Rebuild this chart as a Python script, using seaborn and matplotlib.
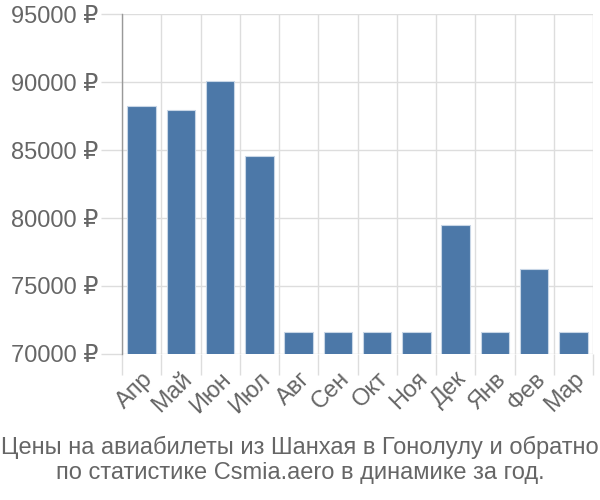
import matplotlib
matplotlib.use("Agg")
import matplotlib.pyplot as plt
import seaborn as sns
import pandas as pd
import numpy as np
from matplotlib.ticker import FixedLocator

months = ["Апр", "Май", "Июн", "Июл", "Авг", "Сен", "Окт", "Ноя", "Дек", "Янв", "Фев", "Мар"]
prices = [88260, 87940, 90040, 84560, 71640, 71640, 71640, 71640, 79490, 71640, 76250, 71640]
yticks = [70000, 75000, 80000, 85000, 90000, 95000]
title = "Цены на авиабилеты из Шанхая в Гонолулу и обратно\nпо статистике Csmia.aero в динамике за год."

sns.set_theme(style="white")
plt.rcParams['font.family'] = ['Liberation Sans', 'DejaVu Sans']

df = pd.DataFrame({"month": months, "price": prices})

fig = plt.figure(figsize=(6, 5), dpi=100)
ax = fig.add_axes([122/600, 1-354/500, (593-122)/600, (354-14)/500])

sns.barplot(data=df, x="month", y="price", color="#4c78a8", saturation=1,
            width=0.72, edgecolor="#c8d6e6", linewidth=0.8, ax=ax, zorder=3)

ax.set_ylim(70000, 95000)
ax.set_xlim(-0.5, len(months) - 0.5)
ax.set_yticks(yticks)
ax.set_yticklabels([f"{v} ₽" for v in yticks])
ax.set_xlabel("")
ax.set_ylabel("")

ax.xaxis.set_minor_locator(FixedLocator(np.arange(-0.5, len(months), 1.0)))
ax.grid(True, axis="y", which="major", color="#dddddd", linewidth=1, zorder=0)
ax.grid(True, axis="x", which="minor", color="#dddddd", linewidth=1, zorder=0)
ax.set_axisbelow(True)

ax.tick_params(axis="y", which="major", length=15, width=1, color="#dddddd",
               labelsize=17, labelcolor="#666666", pad=2, left=True)
ax.tick_params(axis="x", which="minor", length=15, width=1, color="#dddddd", bottom=True)
ax.tick_params(axis="x", which="major", length=0, labelsize=17, labelcolor="#666666", pad=10)

for lbl in ax.get_xticklabels():
    lbl.set_rotation(45)
    lbl.set_ha("right")
    lbl.set_rotation_mode("anchor")

for s in ["top", "right", "bottom"]:
    ax.spines[s].set_visible(False)
ax.spines["left"].set_color("#999999")
ax.spines["left"].set_linewidth(1)

fig.text(0.5, 1-460/500, title, ha="center", va="center", fontsize=17,
         color="#666666", linespacing=1.2)

fig.savefig("out.png", dpi=100)
